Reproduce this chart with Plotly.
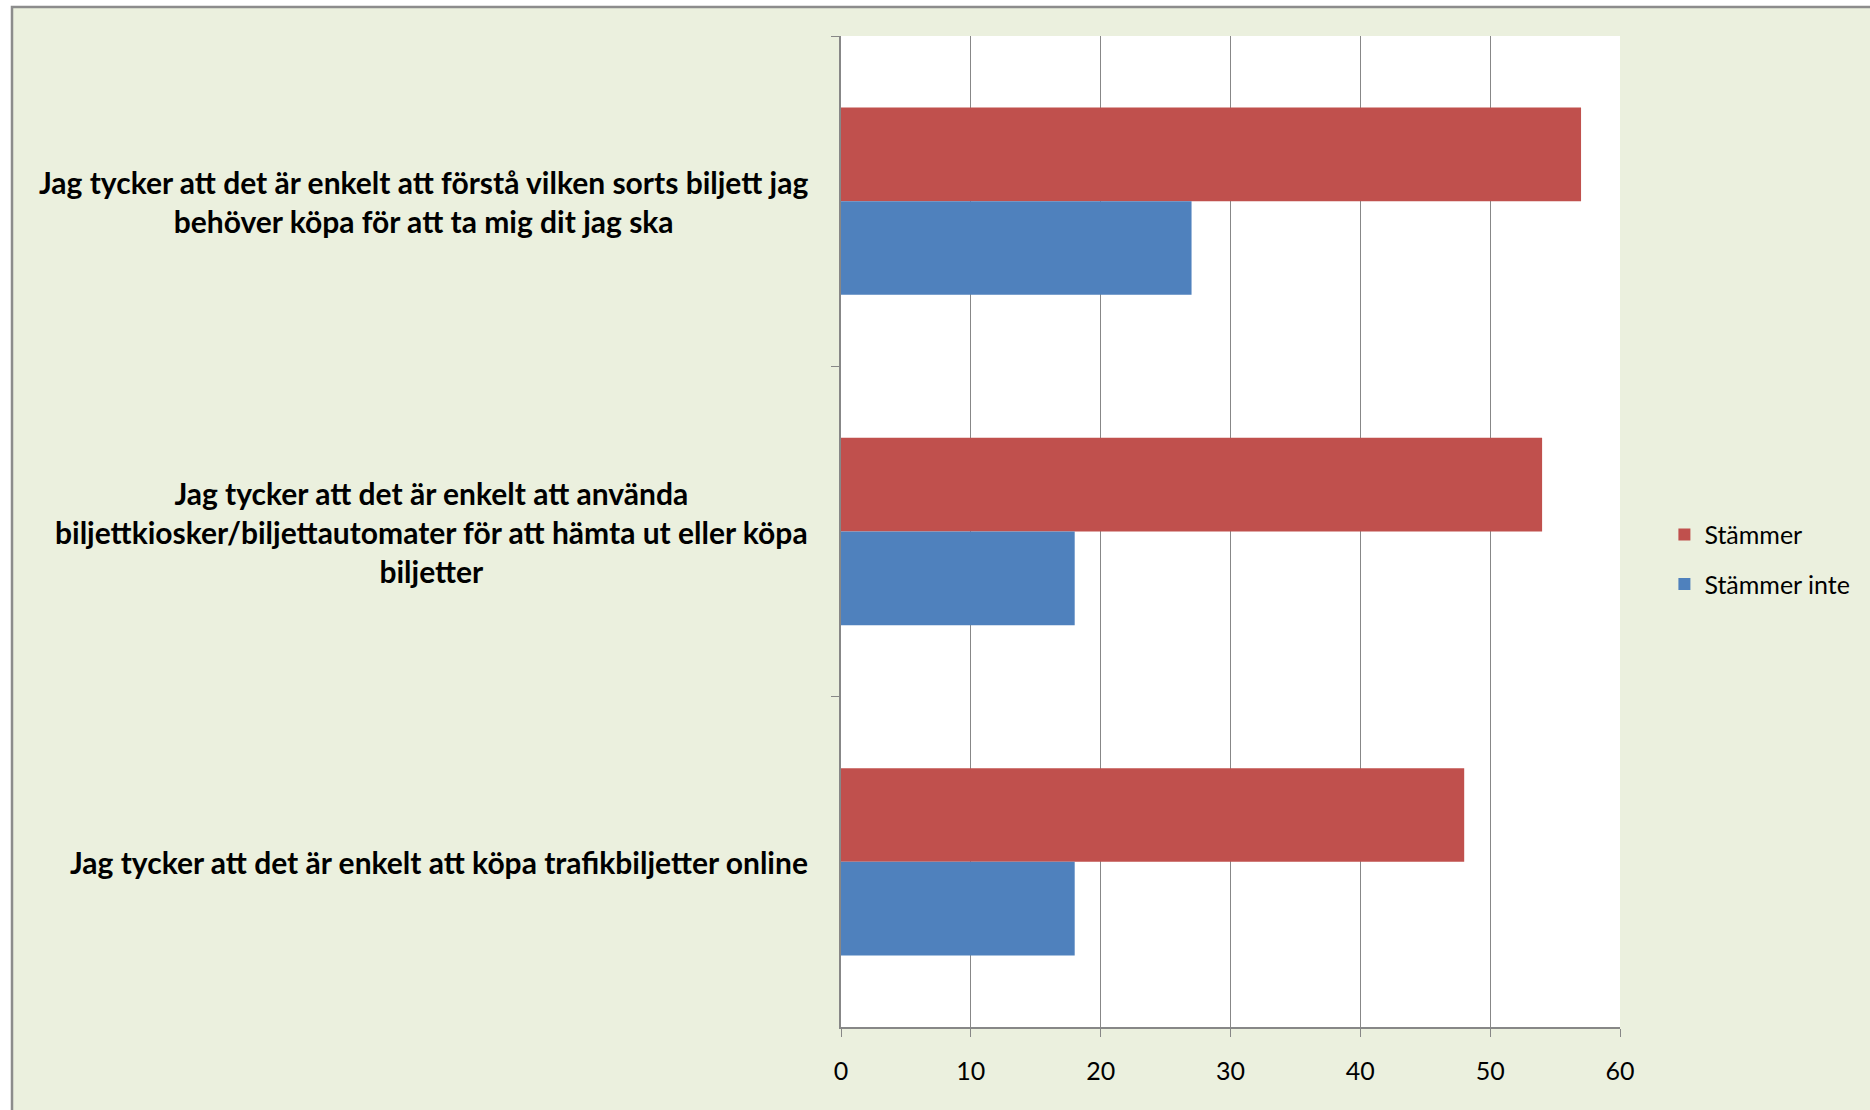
import plotly.graph_objects as go

# survey statements, top to bottom
categories = [
    "Jag tycker att det är enkelt att förstå vilken sorts biljett jag<br>behöver köpa för att ta mig dit jag ska",
    "Jag tycker att det är enkelt att använda<br>biljettkiosker/biljettautomater för att hämta ut eller köpa<br>biljetter",
    "Jag tycker att det är enkelt att köpa trafikbiljetter online",
]
stammer = [57, 54, 48]
stammer_inte = [27, 18, 18]
x_ticks = [0, 10, 20, 30, 40, 50, 60]

RED = "#C0504D"
BLUE = "#4F81BD"
GRID = "#878787"
BG = "#EBF0DE"
FONT = "Lato"

fig = go.Figure()
fig.add_trace(go.Bar(
    y=categories, x=stammer, orientation="h", name="Stämmer",
    marker=dict(color=RED, line=dict(width=0)), legendgroup="a",
))
fig.add_trace(go.Bar(
    y=categories, x=stammer_inte, orientation="h", name="Stämmer inte",
    marker=dict(color=BLUE, line=dict(width=0)), legendgroup="b",
))

# category labels: right aligned block, centred lines (like Excel)
annotations = []
for cat in categories:
    annotations.append(dict(
        x=0, xref="paper", y=cat, yref="y",
        xanchor="right", yanchor="middle", xshift=-31,
        text="<b>" + cat + "</b>", align="center", showarrow=False,
        font=dict(family=FONT, size=30, color="black"),
    ))

# plot area in pixels: left 841, right 1620, top 36, bottom 1027
pw, ph = 779.0, 991.0
shapes = [
    # olive chart background with grey border
    dict(type="rect", xref="paper", yref="paper", layer="below",
         x0=(12 - 841) / pw, x1=(1900 - 841) / pw,
         y0=(1027 - 1130) / ph, y1=1 + (36 - 7) / ph,
         fillcolor=BG, line=dict(color="#8C8C8C", width=2.5)),
    # white plot area
    dict(type="rect", xref="paper", yref="paper", layer="below",
         x0=0, x1=1, y0=0, y1=1, fillcolor="white", line=dict(width=0)),
]

fig.update_layout(
    width=1870, height=1110,
    margin=dict(l=841, r=250, t=36, b=83, pad=0),
    paper_bgcolor="white", plot_bgcolor="white",
    barmode="group", bargap=0.433, bargroupgap=0,
    font=dict(family=FONT, size=25, color="black"),
    showlegend=True,
    legend=dict(
        x=1.057, xanchor="left", y=0.472, yanchor="middle",
        bgcolor="rgba(0,0,0,0)", tracegroupgap=14,
        font=dict(family=FONT, size=25, color="black"),
    ),
    annotations=annotations,
    shapes=shapes,
)
fig.update_xaxes(
    range=[0, 60], tickvals=x_ticks, ticktext=[str(v) for v in x_ticks],
    showgrid=True, gridcolor=GRID, gridwidth=1.3,
    showline=True, linecolor=GRID, linewidth=1.5,
    ticks="outside", ticklen=8, tickcolor=GRID, tickwidth=1.3,
    ticklabelstandoff=13, zeroline=False,
    tickfont=dict(family=FONT, size=25, color="black"),
)
fig.update_yaxes(
    type="category", categoryorder="array", categoryarray=categories,
    autorange="reversed", tickson="boundaries",
    showgrid=False, showticklabels=False,
    showline=True, linecolor=GRID, linewidth=1.5,
    ticks="outside", ticklen=8, tickcolor=GRID, tickwidth=1.3,
)

fig.write_html(
    "out.html",
    config={"displayModeBar": False},
    post_script="document.body.style.margin='0';document.body.style.overflow='hidden';",
)
